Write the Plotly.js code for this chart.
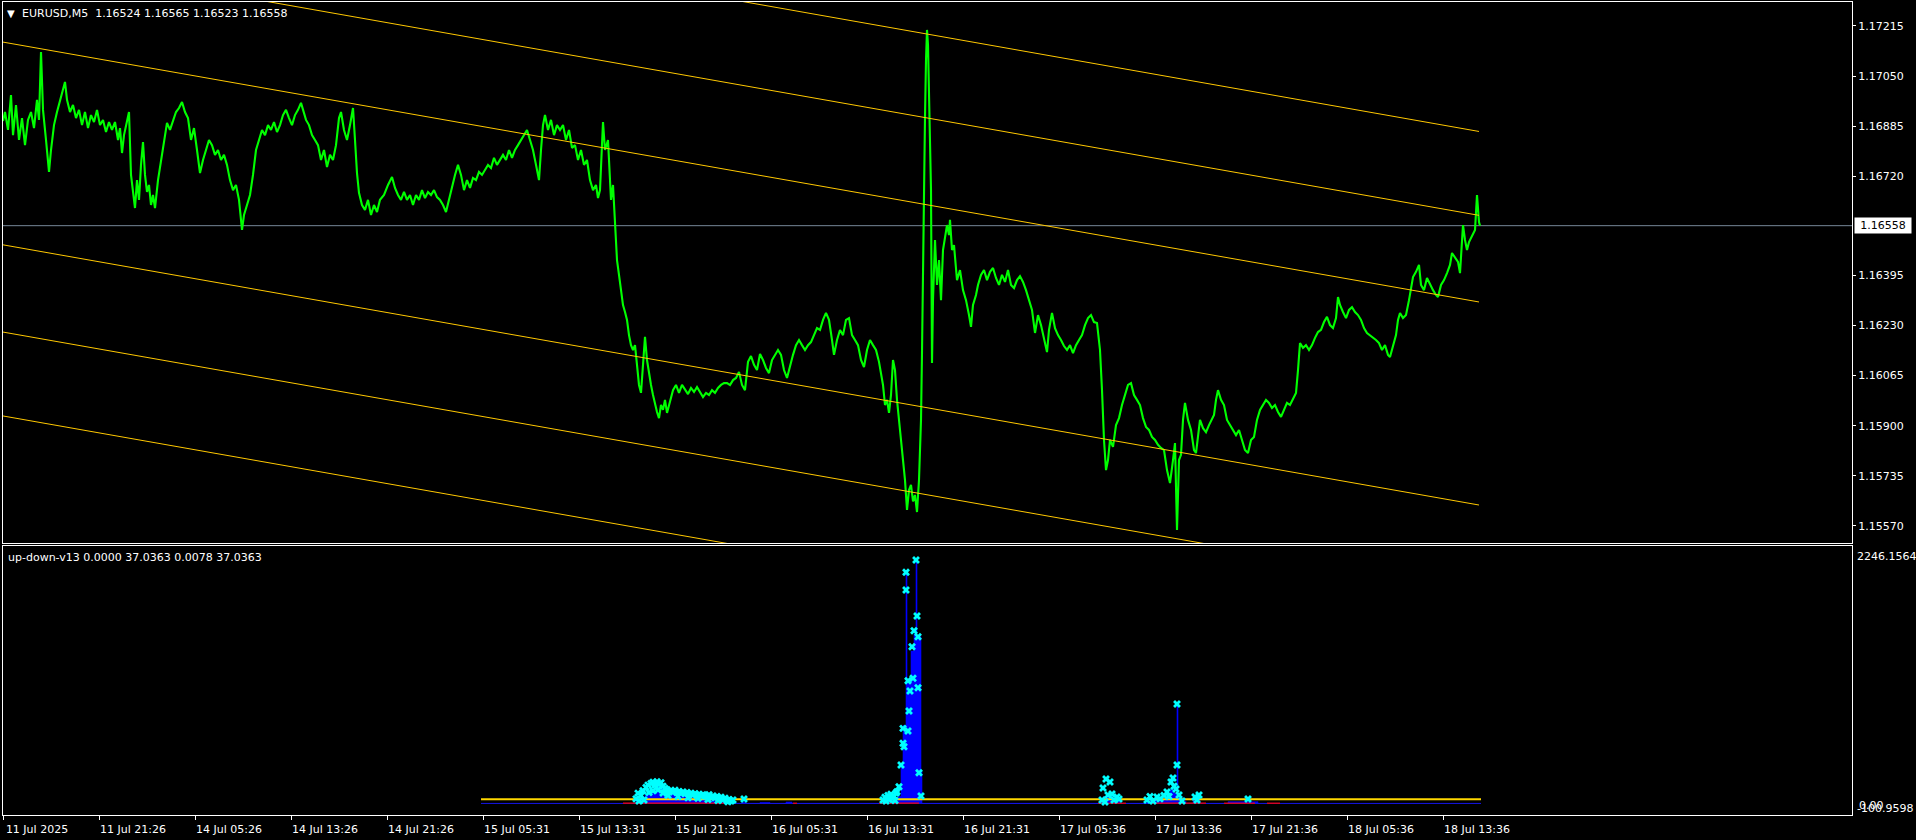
<!DOCTYPE html>
<html><head><meta charset="utf-8">
<script src="https://cdn.plot.ly/plotly-3.0.1.min.js"></script>
<style>html,body{margin:0;padding:0;background:#000;overflow:hidden}#chart{width:1916px;height:840px}</style>
</head><body><div id="chart"></div>
<script>
// ---------------- DATA ----------------
const symbolName = 'EURUSD,M5';
const lastOHLC = [1.16524, 1.16565, 1.16523, 1.16558];
const lastClose = 1.16558;
const indName = 'up-down-v13';
const indHeaderVals = ['0.0000', '37.0363', '0.0078', '37.0363'];
const indMax = 2246.1564, indMin = -100.9598;

// price path (bar index, price)
const pathBar = [
0,2,5,8,10,13,16,19,22,25,
28,31,34,36,38,40,43,46,48,51,
54,57,60,62,64,67,70,73,76,79,
82,85,88,91,94,97,100,103,106,109,
112,115,117,119,121,124,126,128,130,132,
134,136,138,140,142,144,146,148,150,152,
155,158,161,164,167,170,173,176,179,182,
185,188,191,194,197,200,203,206,209,212,
215,218,221,224,227,230,233,236,239,241,
244,247,250,253,256,259,262,265,268,271,
274,277,280,283,286,289,292,295,298,300,
303,306,309,312,315,318,321,324,327,330,
333,336,338,341,344,347,350,352,354,356,
359,362,365,368,371,374,377,381,385,389,
392,395,398,401,404,407,410,413,416,419,
422,425,428,431,434,437,440,443,446,449,
452,455,458,461,464,467,470,473,476,479,
482,485,488,491,494,497,500,503,506,509,
512,515,518,521,524,527,530,533,536,538,
540,542,545,548,551,554,557,560,563,566,
569,572,575,578,581,584,587,590,593,595,
597,600,602,605,608,610,612,614,616,618,
620,622,624,626,628,630,632,634,636,638,
640,642,644,646,648,650,652,654,656,658,
660,662,664,667,670,673,676,679,682,685,
688,691,694,697,700,703,706,709,712,715,
718,721,724,727,730,733,736,739,742,745,
748,751,754,757,760,763,766,769,772,775,
778,781,784,787,790,793,796,799,802,805,
808,811,814,817,820,823,826,829,831,834,
837,840,843,846,849,852,855,858,861,864,
867,870,873,876,878,880,882,884,886,888,
890,892,894,896,898,900,902,904,906,908,
910,912,914,916,917,918,919,920,921,922,
923,924,925,926,927,928,929,930,932,934,
936,938,940,942,944,946,947,949,951,954,
957,960,963,966,968,970,973,975,978,981,
984,987,990,993,996,999,1002,1005,1008,1011,
1014,1017,1020,1023,1026,1029,1032,1035,1038,1041,
1044,1046,1049,1052,1055,1058,1061,1064,1067,1070,
1073,1076,1079,1082,1085,1088,1091,1094,1097,1099,
1101,1103,1105,1107,1110,1113,1116,1119,1122,1125,
1128,1131,1134,1137,1140,1143,1146,1149,1152,1155,
1158,1161,1164,1167,1170,1172,1174,1176,1178,1180,
1182,1185,1188,1191,1193,1195,1197,1200,1203,1206,
1209,1211,1213,1215,1218,1221,1224,1227,1230,1233,
1236,1239,1242,1245,1248,1251,1254,1257,1260,1263,
1266,1269,1272,1275,1278,1281,1284,1287,1290,1293,
1295,1297,1300,1303,1306,1309,1312,1315,1318,1321,
1324,1327,1330,1333,1335,1337,1340,1343,1346,1349,
1352,1355,1358,1361,1364,1367,1370,1373,1376,1379,
1382,1385,1387,1390,1393,1395,1397,1400,1403,1406,
1408,1410,1413,1416,1418,1421,1424,1427,1430,1433,
1435,1438,1441,1444,1447,1449,1452,1455,1457,1459,
1460,1462,1464,1466,1468,1470,1472,1474,1475,1476,
1477];
const pathPrice = [
1.16902,1.16932,1.16873,1.16988,1.16856,1.16955,1.16840,1.16912,1.16823,1.16906,
1.16932,1.16879,1.16972,1.16906,1.17129,1.16939,1.16840,1.16735,1.16807,1.16889,
1.16932,1.16972,1.17011,1.17031,1.16972,1.16932,1.16955,1.16912,1.16939,1.16889,
1.16932,1.16879,1.16922,1.16899,1.16939,1.16889,1.16906,1.16866,1.16899,1.16873,
1.16899,1.16840,1.16879,1.16797,1.16856,1.16906,1.16932,1.16725,1.16659,1.16616,
1.16708,1.16643,1.16758,1.16833,1.16725,1.16669,1.16692,1.16626,1.16659,1.16616,
1.16708,1.16774,1.16840,1.16896,1.16873,1.16906,1.16932,1.16945,1.16965,1.16932,
1.16912,1.16840,1.16879,1.16807,1.16731,1.16774,1.16807,1.16840,1.16823,1.16791,
1.16807,1.16774,1.16791,1.16758,1.16708,1.16675,1.16692,1.16643,1.16544,1.16593,
1.16626,1.16659,1.16725,1.16807,1.16840,1.16873,1.16856,1.16889,1.16873,1.16899,
1.16866,1.16889,1.16922,1.16939,1.16912,1.16889,1.16922,1.16939,1.16962,1.16939,
1.16906,1.16889,1.16856,1.16840,1.16823,1.16774,1.16807,1.16751,1.16791,1.16774,
1.16823,1.16912,1.16932,1.16873,1.16840,1.16889,1.16945,1.16840,1.16731,1.16666,
1.16626,1.16610,1.16643,1.16593,1.16626,1.16603,1.16643,1.16659,1.16692,1.16718,
1.16682,1.16659,1.16643,1.16669,1.16643,1.16659,1.16626,1.16659,1.16643,1.16675,
1.16649,1.16669,1.16659,1.16675,1.16652,1.16643,1.16626,1.16603,1.16643,1.16692,
1.16725,1.16758,1.16725,1.16675,1.16708,1.16682,1.16715,1.16708,1.16735,1.16725,
1.16741,1.16758,1.16748,1.16781,1.16758,1.16774,1.16791,1.16774,1.16807,1.16781,
1.16807,1.16823,1.16840,1.16856,1.16873,1.16840,1.16807,1.16758,1.16708,1.16807,
1.16889,1.16922,1.16873,1.16906,1.16856,1.16889,1.16873,1.16889,1.16840,1.16873,
1.16814,1.16823,1.16774,1.16807,1.16758,1.16774,1.16708,1.16675,1.16692,1.16649,
1.16675,1.16899,1.16807,1.16840,1.16643,1.16692,1.16554,1.16445,1.16396,1.16346,
1.16297,1.16274,1.16248,1.16198,1.16165,1.16149,1.16165,1.16100,1.16034,1.16008,
1.16116,1.16192,1.16116,1.16067,1.16034,1.16001,1.15968,1.15945,1.15925,1.15968,
1.15952,1.15985,1.15942,1.15985,1.16017,1.16034,1.16008,1.16034,1.16017,1.16004,
1.16024,1.16011,1.16027,1.16008,1.15994,1.16008,1.16001,1.16017,1.16008,1.16024,
1.16034,1.16040,1.16040,1.16034,1.16050,1.16057,1.16077,1.16034,1.16017,1.16110,
1.16129,1.16100,1.16083,1.16136,1.16116,1.16090,1.16073,1.16116,1.16133,1.16149,
1.16133,1.16083,1.16057,1.16100,1.16133,1.16165,1.16182,1.16165,1.16149,1.16165,
1.16175,1.16198,1.16221,1.16215,1.16248,1.16271,1.16248,1.16182,1.16133,1.16182,
1.16215,1.16198,1.16248,1.16254,1.16198,1.16182,1.16165,1.16116,1.16093,1.16149,
1.16182,1.16165,1.16149,1.16110,1.16067,1.16034,1.15968,1.15985,1.15942,1.16001,
1.16116,1.16083,1.15985,1.15919,1.15837,1.15777,1.15721,1.15623,1.15688,1.15705,
1.15651,1.15672,1.15616,1.15721,1.15810,1.15919,1.16139,1.16478,1.16708,1.16916,
1.17103,1.17202,1.17152,1.17004,1.16807,1.16675,1.16106,1.16313,1.16511,1.16363,
1.16445,1.16313,1.16478,1.16527,1.16560,1.16527,1.16577,1.16478,1.16494,1.16379,
1.16412,1.16346,1.16313,1.16264,1.16225,1.16297,1.16330,1.16363,1.16396,1.16412,
1.16379,1.16406,1.16419,1.16386,1.16363,1.16396,1.16373,1.16412,1.16363,1.16353,
1.16379,1.16392,1.16373,1.16346,1.16313,1.16281,1.16205,1.16264,1.16231,1.16182,
1.16142,1.16215,1.16271,1.16221,1.16198,1.16182,1.16162,1.16149,1.16165,1.16139,
1.16165,1.16182,1.16198,1.16231,1.16254,1.16264,1.16241,1.16238,1.16149,1.16017,
1.15853,1.15754,1.15787,1.15853,1.15830,1.15902,1.15925,1.15968,1.16001,1.16034,
1.16040,1.16001,1.15985,1.15968,1.15925,1.15896,1.15886,1.15863,1.15853,1.15837,
1.15827,1.15820,1.15754,1.15711,1.15787,1.15843,1.15557,1.15787,1.15804,1.15919,
1.15975,1.15919,1.15886,1.15820,1.15810,1.15869,1.15919,1.15892,1.15879,1.15902,
1.15919,1.15935,1.15985,1.16017,1.15985,1.15968,1.15919,1.15902,1.15886,1.15869,
1.15886,1.15853,1.15820,1.15810,1.15853,1.15863,1.15919,1.15952,1.15968,1.15985,
1.15975,1.15958,1.15968,1.15945,1.15929,1.15952,1.15975,1.15968,1.15991,1.16008,
1.16083,1.16172,1.16156,1.16165,1.16149,1.16165,1.16189,1.16208,1.16215,1.16241,
1.16258,1.16231,1.16221,1.16254,1.16323,1.16297,1.16274,1.16254,1.16281,1.16290,
1.16274,1.16264,1.16248,1.16221,1.16205,1.16198,1.16192,1.16182,1.16172,1.16149,
1.16165,1.16133,1.16126,1.16165,1.16198,1.16248,1.16271,1.16254,1.16264,1.16313,
1.16346,1.16389,1.16406,1.16429,1.16363,1.16346,1.16386,1.16363,1.16346,1.16330,
1.16323,1.16363,1.16379,1.16402,1.16429,1.16468,1.16452,1.16439,1.16402,1.16511,
1.16560,1.16511,1.16478,1.16504,1.16517,1.16527,1.16544,1.16659,1.16593,1.16570,
1.16558];

// regression channel lines: price at first and last bar
const chanBars = [0, 1476];
const chanStart = [1.17725, 1.17449, 1.17162, 1.16495, 1.16208, 1.15932];
const chanEnd   = [1.16868, 1.16592, 1.16307, 1.15639, 1.15353, 1.15077];

// price axis ticks
const priceTicks = [1.17215, 1.17050, 1.16885, 1.16720, 1.16395, 1.16230, 1.16065, 1.15900, 1.15735, 1.15570];

// time axis
const timeTickBars = [0,96,192,288,384,480,576,672,768,864,960,1056,1152,1248,1344,1440];
const timeTickText = ['11 Jul 2025','11 Jul 21:26','14 Jul 05:26','14 Jul 13:26','14 Jul 21:26','15 Jul 05:31',
  '15 Jul 13:31','15 Jul 21:31','16 Jul 05:31','16 Jul 13:31','16 Jul 21:31','17 Jul 05:36','17 Jul 13:36',
  '17 Jul 21:36','18 Jul 05:36','18 Jul 13:36'];

// indicator: blue histogram (step values)
const histBar = [630,633,637,642,647,652,657,662,667,677,
  687,697,707,717,727,732,739,743,757,767,
  783,789,877,880,886,892,895,898,900,903,
  904,908,911,913,914,918,919,1097,1101,1105,
  1109,1113,1117,1144,1152,1162,1167,1171,1174,1175,
  1179,1183,1190,1197,1225,1255];
const histVal = [0,20,45,75,115,150,140,100,85,70,
  55,45,35,25,12,0,10,0,8,0,
  12,0,0,25,40,45,60,330,680,2017,
  1077,1330,1480,2124,1455,280,0,30,60,90,
  50,30,0,25,40,60,120,90,868,60,
  20,0,30,0,15,0];

// indicator: cyan x markers
const markBar = [633,635,636,638,640,641,643,645,646,648,
  650,650,652,654,655,656,658,660,660,662,
  664,665,666,668,670,672,674,675,676,678,
  680,682,684,685,686,688,690,692,694,695,
  696,698,700,702,704,705,706,708,710,712,
  714,715,716,718,720,722,724,725,726,728,
  730,741,
  880,882,883,885,886,888,889,891,892,893,
  894,896,898,900,900,901,903,903,905,905,
  906,907,909,910,911,913,914,915,915,916,
  918,
  1099,1100,1102,1103,1105,1107,1109,1111,1114,1116,
  1144,1147,1150,1154,1157,1161,1164,1166,1168,1170,
  1171,1173,1174,1174,1176,1179,1192,1194,1196,1245];
const markVal = [40,90,20,70,110,30,140,160,95,175,
  185,110,160,190,120,170,180,150,90,130,
  120,70,105,110,100,115,95,60,105,90,
  100,85,95,50,80,90,75,85,70,45,
  80,65,75,70,60,35,75,55,65,50,
  60,25,45,55,35,45,25,15,35,20,
  30,39,
  30,55,20,70,35,80,45,60,25,90,
  102,146,335,525,655,495,2017,1862,1071,632,
  806,981,1367,1092,1507,2124,1635,1455,1010,268,
  65,
  30,135,13,213,74,187,83,30,56,39,
  30,60,20,56,40,70,100,60,187,222,
  150,126,868,335,74,21,56,30,74,39];

// indicator: small red buffer segments near zero
const redStart = [620, 790, 876, 1095, 1147, 1221, 1264];
const redEnd   = [726, 794, 916, 1123, 1203, 1252, 1277];
const redVal = 2;

// indicator level lines
const levelStartBar = 478, levelEndBar = 1478;
const yellowLevel = 37.0363, blueLevel = 0;

// ---------------- LAYOUT HELPERS ----------------
const PL = 3, PT = 2, PR = 1852, PB = 815;
const PW = PR - PL, PH = PB - PT;
const px = x => (x - PL) / PW;
const py = y => (PB - y) / PH;
const FONT = 'DejaVu Sans, Verdana, sans-serif';
const WHITE = '#FFFFFF';

// ---------------- TRACES ----------------
const traces = [];
traces.push({x: pathBar, y: pathPrice, xaxis: 'x2', yaxis: 'y', type: 'scatter', mode: 'lines',
  line: {color: '#00FF00', width: 2.1}, hoverinfo: 'skip'});
for (let i = 0; i < chanStart.length; i++) {
  traces.push({x: chanBars, y: [chanStart[i], chanEnd[i]], xaxis: 'x2', yaxis: 'y', type: 'scatter',
    mode: 'lines', line: {color: '#FFC800', width: 1}, hoverinfo: 'skip'});
}
// indicator
traces.push({x: histBar, y: histVal, xaxis: 'x', yaxis: 'y2', type: 'scatter', mode: 'lines',
  line: {shape: 'hv', color: '#0000FF', width: 0.6}, fill: 'tozeroy', fillcolor: '#0000FF', hoverinfo: 'skip'});
traces.push({x: [levelStartBar, levelEndBar], y: [blueLevel, blueLevel], xaxis: 'x', yaxis: 'y2',
  type: 'scatter', mode: 'lines', line: {color: '#1414E6', width: 1}, hoverinfo: 'skip'});
const rx = [], ry = [];
for (let i = 0; i < redStart.length; i++) { rx.push(redStart[i], redEnd[i], null); ry.push(redVal, redVal, null); }
traces.push({x: rx, y: ry, xaxis: 'x', yaxis: 'y2', type: 'scatter', mode: 'lines',
  line: {color: '#FF0000', width: 1.2}, hoverinfo: 'skip'});
traces.push({x: [levelStartBar, levelEndBar], y: [yellowLevel, yellowLevel], xaxis: 'x', yaxis: 'y2',
  type: 'scatter', mode: 'lines', line: {color: '#FFD700', width: 2}, hoverinfo: 'skip'});
traces.push({x: markBar, y: markVal, xaxis: 'x', yaxis: 'y2', type: 'scatter', mode: 'markers',
  marker: {symbol: 'x', size: 7, color: '#00FFFF', line: {width: 0}}, hoverinfo: 'skip'});

// ---------------- LAYOUT ----------------
const xRange = [0, PW];
const axisFont = {family: FONT, size: 11, color: WHITE};
const layout = {
  width: 1916, height: 840,
  paper_bgcolor: '#000000', plot_bgcolor: '#000000',
  margin: {l: PL, r: 1916 - PR, t: PT, b: 840 - PB, pad: 0},
  showlegend: false, hovermode: false,
  xaxis: {anchor: 'y2', range: xRange, tickmode: 'array', tickvals: timeTickBars, ticktext: timeTickText,
    ticks: 'outside', ticklen: 4, tickcolor: WHITE, tickwidth: 1, tickfont: axisFont, ticklabelshift: 34,
    showgrid: false, zeroline: false, showline: true, mirror: true, linecolor: WHITE, linewidth: 1, fixedrange: true},
  xaxis2: {anchor: 'y', range: xRange, showticklabels: false, ticks: '', showgrid: false, zeroline: false,
    showline: true, mirror: true, linecolor: WHITE, linewidth: 1, fixedrange: true},
  yaxis: {domain: [py(543), 1], range: [1.173005 - 543 * 0.0000329, 1.173005 - 2 * 0.0000329], side: 'right',
    tickmode: 'array', tickvals: priceTicks, ticktext: priceTicks.map(v => v.toFixed(5)),
    ticks: 'outside', ticklen: 3, tickcolor: WHITE, tickfont: axisFont,
    showgrid: false, zeroline: false, showline: true, mirror: true, linecolor: WHITE, linewidth: 1, fixedrange: true},
  yaxis2: {domain: [0, py(546)], range: [indMin, indMax], side: 'right', showticklabels: false, ticks: '',
    showgrid: false, zeroline: false, showline: true, mirror: true, linecolor: WHITE, linewidth: 1, fixedrange: true},
  shapes: [
    {type: 'line', xref: 'paper', yref: 'y', x0: 0, x1: 1, y0: lastClose, y1: lastClose,
     line: {color: '#778899', width: 1}, layer: 'below'}
  ],
  annotations: [
    {xref: 'paper', yref: 'paper', x: px(5), y: py(13), xanchor: 'left', yanchor: 'middle', showarrow: false,
     text: '\u25BC', font: {family: FONT, size: 10, color: WHITE}},
    {xref: 'paper', yref: 'paper', x: px(20), y: py(13), xanchor: 'left', yanchor: 'middle', showarrow: false,
     text: symbolName + '\u00a0\u00a0' + lastOHLC.map(v => v.toFixed(5)).join(' '), font: axisFont},
    {xref: 'paper', yref: 'paper', x: px(6), y: py(557), xanchor: 'left', yanchor: 'middle', showarrow: false,
     text: indName + ' ' + indHeaderVals.join(' '), font: axisFont},
    {xref: 'paper', yref: 'y', x: px(1854), y: lastClose, xanchor: 'left', yanchor: 'middle', showarrow: false,
     text: lastClose.toFixed(5), bgcolor: '#FFFFFF', width: 54, height: 13, borderpad: 1,
     font: {family: FONT, size: 11, color: '#000000'}},
    {xref: 'paper', yref: 'paper', x: px(1855), y: py(556), xanchor: 'left', yanchor: 'middle', showarrow: false,
     text: indMax.toFixed(4), font: axisFont},
    {xref: 'paper', yref: 'paper', x: px(1855), y: py(808), xanchor: 'left', yanchor: 'middle', showarrow: false,
     text: indMin.toFixed(4), font: axisFont},
    {xref: 'paper', yref: 'paper', x: px(1857), y: py(805), xanchor: 'left', yanchor: 'middle', showarrow: false,
     text: '0.00', font: axisFont}
  ]
};
Plotly.newPlot('chart', traces, layout, {staticPlot: true, displayModeBar: false});
</script>
</body></html>
